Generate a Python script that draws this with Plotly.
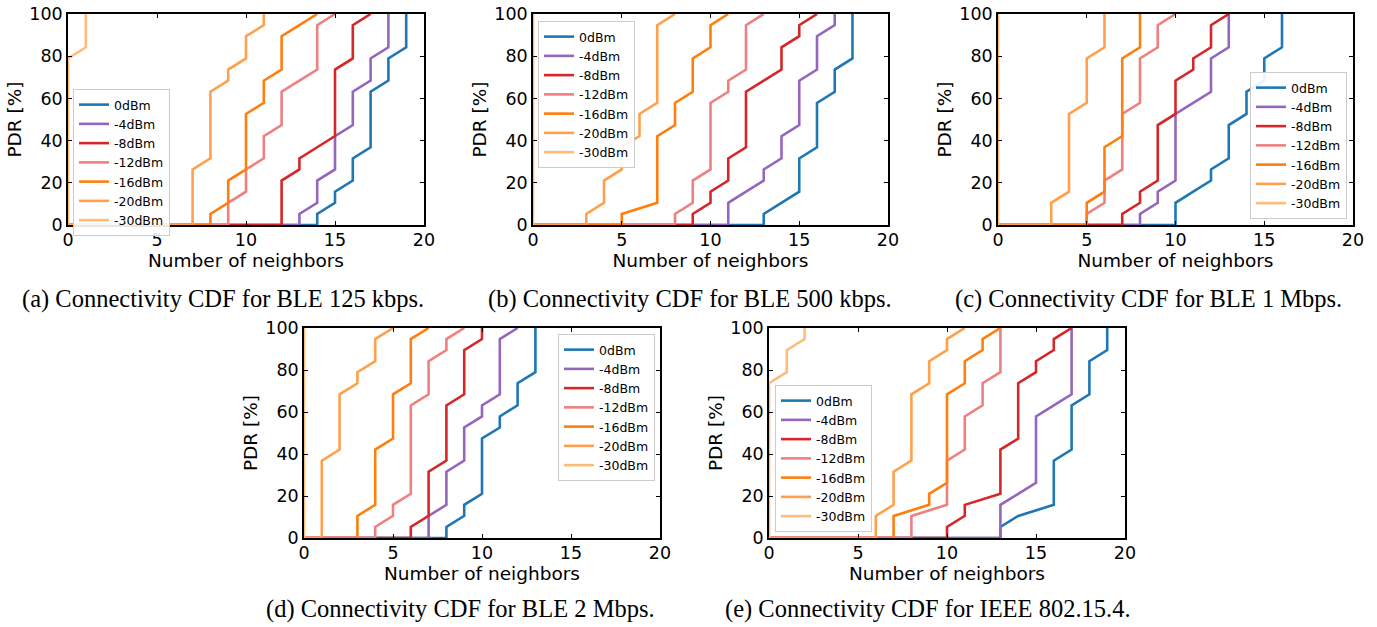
import plotly.graph_objects as go

# ---------------- data ----------------
SERIES = ["0dBm", "-4dBm", "-8dBm", "-12dBm", "-16dBm", "-20dBm", "-30dBm"]
COLORS = ["#1f77b4", "#9467bd", "#d62728", "#f08080", "#ff7f0e", "#ffa04c", "#ffbb78"]

# CDF levels (%) for the sorted samples, first entry is the origin of each curve
PDR_LEVELS = [0, 0, 5.26, 10.53, 15.79, 21.05, 26.32, 31.58, 36.84, 42.11, 47.37,
              52.63, 57.89, 63.16, 68.42, 73.68, 78.95, 84.21, 89.47, 94.74, 100]

# sorted number of neighbors per node (first entry = origin)
NEIGH_A = [
    [0, 14, 14, 15, 15, 16, 16, 16, 17, 17, 17, 17, 17, 17, 18, 18, 18, 19, 19, 19, 19],
    [0, 13, 13, 14, 14, 14, 15, 15, 15, 15, 16, 16, 16, 16, 17, 17, 17, 18, 18, 18, 18],
    [0, 12, 12, 12, 12, 12, 13, 13, 14, 15, 15, 15, 15, 15, 15, 15, 16, 16, 16, 16, 17],
    [0, 9, 9, 9, 10, 10, 10, 11, 11, 11, 12, 12, 12, 12, 13, 14, 14, 14, 14, 14, 15],
    [0, 8, 8, 9, 9, 9, 10, 10, 10, 10, 10, 10, 11, 11, 11, 12, 12, 12, 12, 13, 14],
    [0, 7, 7, 7, 7, 7, 7, 8, 8, 8, 8, 8, 8, 8, 9, 9, 10, 10, 10, 11, 11],
    [0, 0, 0, 0, 0, 0, 0, 0, 0, 0, 0, 0, 0, 0, 0, 0, 0, 1, 1, 1, 1],
]
NEIGH_B = [
    [0, 13, 13, 14, 15, 15, 15, 15, 16, 16, 16, 16, 16, 17, 17, 17, 18, 18, 18, 18, 18],
    [0, 11, 11, 11, 12, 13, 13, 14, 14, 14, 15, 15, 15, 15, 15, 16, 16, 16, 16, 17, 17],
    [0, 9, 9, 10, 10, 11, 11, 11, 12, 12, 12, 12, 12, 12, 13, 14, 14, 14, 15, 15, 16],
    [0, 8, 8, 9, 9, 9, 10, 10, 10, 10, 10, 10, 10, 11, 11, 12, 12, 12, 12, 12, 13],
    [0, 5, 5, 7, 7, 7, 7, 7, 7, 7, 8, 8, 8, 9, 9, 9, 9, 10, 10, 10, 11],
    [0, 3, 3, 4, 4, 4, 5, 5, 5, 6, 6, 6, 7, 7, 7, 7, 7, 7, 7, 7, 8],
    [0, 0, 0, 0, 0, 0, 0, 0, 0, 0, 0, 0, 0, 0, 0, 0, 0, 0, 0, 0, 0],
]
NEIGH_C = [
    [0, 10, 10, 10, 11, 12, 12, 13, 13, 13, 13, 14, 14, 14, 15, 15, 15, 16, 16, 16, 16],
    [0, 8, 8, 9, 9, 10, 10, 10, 10, 10, 10, 10, 11, 12, 12, 12, 12, 13, 13, 13, 13],
    [0, 7, 7, 8, 8, 9, 9, 9, 9, 9, 9, 10, 10, 10, 10, 11, 11, 12, 12, 12, 13],
    [0, 5, 5, 6, 6, 6, 7, 7, 7, 7, 7, 7, 8, 8, 8, 8, 8, 9, 9, 9, 10],
    [0, 5, 5, 5, 6, 6, 6, 6, 6, 7, 7, 7, 7, 7, 7, 7, 7, 8, 8, 8, 8],
    [0, 3, 3, 3, 4, 4, 4, 4, 4, 4, 4, 4, 5, 5, 5, 5, 5, 6, 6, 6, 6],
    [0, 0, 0, 0, 0, 0, 0, 0, 0, 0, 0, 0, 0, 0, 0, 0, 0, 0, 0, 0, 0],
]
NEIGH_D = [
    [0, 8, 8, 9, 9, 10, 10, 10, 10, 10, 10, 11, 11, 12, 12, 12, 13, 13, 13, 13, 13],
    [0, 7, 7, 7, 8, 8, 8, 8, 9, 9, 9, 9, 10, 10, 11, 11, 11, 11, 11, 11, 12],
    [0, 6, 6, 7, 7, 7, 7, 7, 8, 8, 8, 8, 8, 8, 9, 9, 9, 9, 9, 10, 10],
    [0, 4, 4, 5, 5, 6, 6, 6, 6, 6, 6, 6, 6, 6, 7, 7, 7, 7, 8, 8, 9],
    [0, 3, 3, 3, 4, 4, 4, 4, 4, 4, 5, 5, 5, 5, 5, 6, 6, 6, 6, 6, 7],
    [0, 1, 1, 1, 1, 1, 1, 1, 1, 2, 2, 2, 2, 2, 2, 3, 3, 4, 4, 4, 5],
    [0, 0, 0, 0, 0, 0, 0, 0, 0, 0, 0, 0, 0, 0, 0, 0, 0, 0, 0, 0, 0],
]
NEIGH_E = [
    [0, 13, 13, 14, 16, 16, 16, 16, 16, 17, 17, 17, 17, 17, 18, 18, 18, 18, 19, 19, 19],
    [0, 13, 13, 13, 13, 14, 15, 15, 15, 15, 15, 15, 15, 16, 17, 17, 17, 17, 17, 17, 17],
    [0, 10, 10, 11, 11, 13, 13, 13, 13, 13, 14, 14, 14, 14, 14, 14, 15, 15, 16, 16, 17],
    [0, 8, 8, 8, 10, 10, 10, 10, 10, 11, 11, 11, 11, 12, 12, 12, 13, 13, 13, 13, 13],
    [0, 7, 7, 7, 9, 9, 10, 10, 10, 10, 10, 10, 10, 10, 10, 11, 11, 11, 12, 12, 13],
    [0, 6, 6, 6, 7, 7, 7, 7, 8, 8, 8, 8, 8, 8, 8, 9, 9, 9, 10, 10, 11],
    [0, 0, 0, 0, 0, 0, 0, 0, 0, 0, 0, 0, 0, 0, 0, 0, 1, 1, 1, 2, 2],
]

CAPTIONS = [
    "(a) Connectivity CDF for BLE 125 kbps.",
    "(b) Connectivity CDF for BLE 500 kbps.",
    "(c) Connectivity CDF for BLE 1 Mbps.",
    "(d) Connectivity CDF for BLE 2 Mbps.",
    "(e) Connectivity CDF for IEEE 802.15.4.",
]
X_TICKS = [0, 5, 10, 15, 20]
Y_TICKS = [0, 20, 40, 60, 80, 100]
X_TITLE = "Number of neighbors"
Y_TITLE = "PDR [%]"

# ---------------- layout (pixels) ----------------
W, H = 1377, 627
# (left, right, top, bottom) of each plot area in pixels
PANELS = [
    (68, 424, 14, 225),
    (533, 888, 14, 225),
    (998, 1353, 14, 225),
    (304, 660, 328, 538),
    (769, 1125, 328, 538),
]
# legend anchor: (x px, y px, xanchor, yanchor)
LEGENDS = [
    (73, 89, "left", "top"),
    (538, 21, "left", "top"),
    (1347, 219, "right", "bottom"),
    (655, 334, "right", "top"),
    (775, 532, "left", "bottom"),
]
CAPTION_POS = [(223, 299), (690, 299), (1148, 299), (460, 609), (928, 609)]

DATA = [NEIGH_A, NEIGH_B, NEIGH_C, NEIGH_D, NEIGH_E]

fig = go.Figure()
TICKFONT = dict(family="DejaVu Sans", size=17.5, color="black")
TITLEFONT = dict(family="DejaVu Sans", size=18.5, color="black")

for p, (neigh, (l, r, t, b)) in enumerate(zip(DATA, PANELS)):
    idx = "" if p == 0 else str(p + 1)
    legname = "legend" + idx
    for name, col, xs in zip(SERIES, COLORS, neigh):
        fig.add_trace(go.Scatter(
            x=xs, y=PDR_LEVELS, mode="lines", name=name,
            line=dict(color=col, width=2.6),
            xaxis="x" + idx, yaxis="y" + idx, legend=legname,
            showlegend=True,
        ))
    axcommon = dict(
        showline=True, linecolor="black", linewidth=1.5, mirror="ticks",
        ticks="inside", ticklen=4, tickwidth=1.2, tickcolor="black",
        showgrid=False, zeroline=False, tickfont=TICKFONT,
        fixedrange=True, automargin=False,
    )
    fig.update_layout(**{
        "xaxis" + idx: dict(
            domain=[l / W, r / W], range=[0, 20], tickvals=X_TICKS,
            anchor="y" + idx,
            title=dict(text=X_TITLE, font=TITLEFONT, standoff=0),
            ticklabelstandoff=-2,
            **axcommon),
        "yaxis" + idx: dict(
            domain=[1 - b / H, 1 - t / H], range=[0, 100], tickvals=Y_TICKS,
            anchor="x" + idx,
            title=dict(text=Y_TITLE, font=TITLEFONT, standoff=3),
            ticklabelstandoff=0,
            **axcommon),
    })
    lx, ly, xa, ya = LEGENDS[p]
    fig.update_layout(**{
        legname: dict(
            x=lx / W, y=1 - ly / H, xanchor=xa, yanchor=ya,
            bgcolor="rgba(255,255,255,0.9)", bordercolor="#cccccc", borderwidth=1,
            font=dict(family="DejaVu Sans", size=12.5, color="black"),
            tracegroupgap=0, itemwidth=30,
        )
    })
    cx, cy = CAPTION_POS[p]
    fig.add_annotation(
        x=cx / W, y=1 - cy / H, xref="paper", yref="paper",
        text=CAPTIONS[p], showarrow=False, xanchor="center", yanchor="middle",
        font=dict(family="Liberation Serif", size=24.5, color="black"),
    )

fig.update_layout(
    width=W, height=H, margin=dict(l=0, r=0, t=0, b=0, autoexpand=False),
    paper_bgcolor="white", plot_bgcolor="white",
)

# remove the page's default body margin so the figure fills the window exactly
fig.write_html(
    "out.html",
    config={"displayModeBar": False},
    post_script="document.body.style.margin='0px';document.body.style.overflow='hidden';",
)
